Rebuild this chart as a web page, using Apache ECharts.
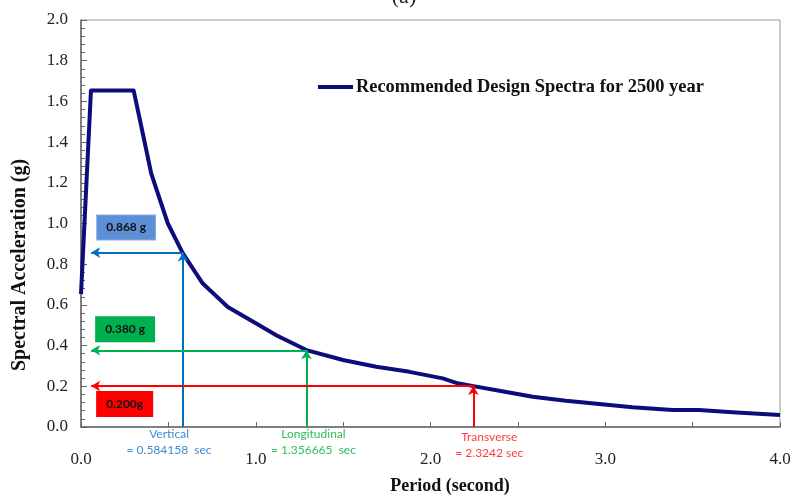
<!DOCTYPE html>
<html>
<head>
<meta charset="utf-8">
<script src="https://cdn.jsdelivr.net/npm/echarts@6/dist/echarts.min.js"></script>
<style>html,body{margin:0;padding:0;background:#fff}#c{width:794px;height:498px}</style>
</head>
<body>
<div id="c"></div>
<script>
// Period (s) and spectral acceleration (g)
const periods = [0, 0.057, 0.301, 0.354, 0.402, 0.497, 0.583, 0.697, 0.84, 1.02, 1.12, 1.29, 1.499, 1.69, 1.88, 2.07, 2.147, 2.245, 2.394, 2.585, 2.775, 2.966, 3.156, 3.385, 3.537, 3.727, 4.0];
const accels  = [0.653, 1.654, 1.654, 1.441, 1.245, 1.0, 0.853, 0.705, 0.59, 0.50, 0.45, 0.378, 0.329, 0.296, 0.271, 0.239, 0.217, 0.201, 0.178, 0.149, 0.129, 0.113, 0.097, 0.083, 0.083, 0.072, 0.059];

// Annotation arrows (as drawn in the picture)
const arrowNames   = ['Vertical', 'Longitudinal', 'Transverse'];
const arrowPeriods = [0.584, 1.29, 2.245];
const arrowAccels  = [0.857, 0.377, 0.201];
const arrowLeftEnd = 0.058;
const boxTexts     = ['0.868 g', '0.380 g', '0.200g'];
const periodTexts  = ['= 0.584158  sec', '= 1.356665  sec', '= 2.3242 sec'];
const xTicks = ['0.0', '1.0', '2.0', '3.0', '4.0'];

const lineColors = ['#0070c0', '#00b050', '#ff0000'];
const boxColors  = ['#5b8fd6', '#00b050', '#ff0000'];
const boxBorders = ['#86aee3', '#00b050', '#ff0000'];
const textColors = ['#3f8ad2', '#2fbd5c', '#ff3b3b'];
const boxSide    = ['top', 'top', 'bottom'];
const boxDist    = [[6, 13], [5, 9], [6, 6]];
const txtOffset  = [[-14, -1], [7, -1], [16, 2]];

const seriesName = 'Recommended Design Spectra for 2500 year';

const mlData = [];
for (let i = 0; i < arrowPeriods.length; i++) {
  mlData.push([
    { coord: [arrowLeftEnd, arrowAccels[i]], symbol: 'arrow', symbolSize: [8, 9],
      lineStyle: { color: lineColors[i], width: 2, type: 'solid' },
      label: {
        show: true, position: boxSide[i] === 'top' ? 'insideStartTop' : 'insideStartBottom',
        distance: boxDist[i],
        formatter: boxTexts[i],
        color: '#111', fontFamily: 'Lato', fontWeight: 'bold', fontSize: 12,
        backgroundColor: boxColors[i], borderColor: boxBorders[i], borderWidth: 1,
        padding: [6, 9, 6, 9]
      }
    },
    { coord: [arrowPeriods[i], arrowAccels[i]], symbol: 'none' }
  ]);
  mlData.push([
    { coord: [arrowPeriods[i], 0], symbol: 'none',
      lineStyle: { color: lineColors[i], width: 2, type: 'solid' },
      label: {
        show: true, position: 'start', distance: 0,
        offset: txtOffset[i],
        formatter: arrowNames[i] + '\n' + periodTexts[i],
        color: textColors[i], fontFamily: 'Lato', fontSize: 12, lineHeight: 16, align: 'center'
      }
    },
    { coord: [arrowPeriods[i], arrowAccels[i]], symbol: 'arrow', symbolSize: [8, 9] }
  ]);
}

const chart = echarts.init(document.getElementById('c'), null, { renderer: 'canvas' });
chart.setOption({
  animation: false,
  backgroundColor: '#fff',
  grid: { left: 81, right: 14, top: 20, bottom: 71, show: true, borderColor: '#9a9a9a', borderWidth: 1 },
  legend: {
    data: [{ name: seriesName, icon: 'rect' }], left: 318, top: 78, padding: 0, selectedMode: false,
    itemWidth: 35, itemHeight: 4, itemGap: 0,
    itemStyle: { color: '#0c0c7a' },
    textStyle: { fontFamily: 'Liberation Serif', fontWeight: 'bold', fontSize: 18.4, color: '#111', padding: [0, 0, 0, -2] }
  },
  xAxis: {
    type: 'value', min: 0, max: 4, interval: 0.5,
    axisLine: { show: true, onZero: false, lineStyle: { color: '#666', width: 1.5 } },
    axisTick: { show: true, inside: true, length: 5, lineStyle: { color: '#666' } },
    splitLine: { show: false },
    axisLabel: {
      margin: 24, color: '#222', fontFamily: 'Liberation Serif', fontSize: 17,
      formatter: v => (Math.abs(v - Math.round(v)) < 1e-9 ? xTicks[Math.round(v)] : '')
    }
  },
  yAxis: {
    type: 'value', min: 0, max: 2, interval: 0.2,
    axisLine: { show: true, lineStyle: { color: '#666', width: 1.5 } },
    axisTick: { show: true, inside: true, length: 6, lineStyle: { color: '#666' } },
    minorTick: { show: true, splitNumber: 5, length: 4, lineStyle: { color: '#666' } },
    splitLine: { show: false },
    axisLabel: {
      margin: 13, color: '#222', fontFamily: 'Liberation Serif', fontSize: 17,
      formatter: v => v.toFixed(1)
    }
  },
  graphic: [
    { type: 'text', x: 404, y: -3, style: { text: '(a)', font: '22px "Liberation Serif"', fill: '#222', align: 'center', verticalAlign: 'middle' } },
    { type: 'text', x: 20, y: 265, rotation: Math.PI / 2, style: { text: 'Spectral Acceleration (g)', font: 'bold 20px "Liberation Serif"', fill: '#111', align: 'center', verticalAlign: 'middle' } },
    { type: 'text', x: 450, y: 486, style: { text: 'Period (second)', font: 'bold 18px "Liberation Serif"', fill: '#111', align: 'center', verticalAlign: 'middle' } }
  ],
  series: [{
    name: seriesName, type: 'line', showSymbol: false, symbol: 'none',
    data: periods.map((t, i) => [t, accels[i]]),
    lineStyle: { color: '#0c0c7a', width: 4, join: 'round' },
    itemStyle: { color: '#0c0c7a' },
    z: 3,
    markLine: { silent: true, animation: false, z: 4, data: mlData }
  }]
});
</script>
</body>
</html>
